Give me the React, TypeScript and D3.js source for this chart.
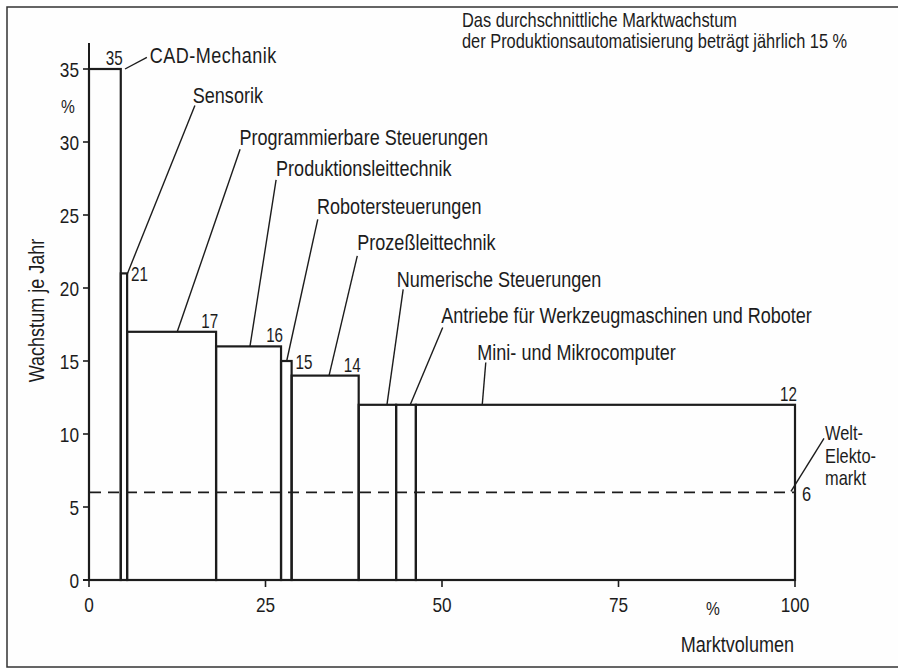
import React, { useEffect, useRef } from 'react';
import * as d3 from 'd3';

// Segmente der Produktionsautomatisierung
const categories = [
  'CAD-Mechanik',
  'Sensorik',
  'Programmierbare Steuerungen',
  'Produktionsleittechnik',
  'Robotersteuerungen',
  'Prozeßleittechnik',
  'Numerische Steuerungen',
  'Antriebe für Werkzeugmaschinen und Roboter',
  'Mini- und Mikrocomputer',
];
// Wachstum je Jahr in %
const growth = [35, 21, 17, 16, 15, 14, 12, 12, 12];
// Anteil am Marktvolumen in %
const volume = [4.5, 0.9, 12.6, 9.2, 1.5, 9.5, 5.3, 2.8, 53.7];
const valueLabels = ['35', '21', '17', '16', '15', '14', '', '', '12'];
const valuePos = ['top', 'side', 'top', 'top', 'side', 'top', '', '', 'top'];

const xTicks = [0, 25, 50, 75, 100];
const yTicks = [0, 5, 10, 15, 20, 25, 30, 35];
const worldMarket = 6;

// annotation anchors (data units): text start, leader start, leader end on the bar
const labelX = [8.6, 14.7, 21.3, 26.5, 32.3, 38.0, 43.6, 49.9, 55.0];
const labelY = [35.4, 32.7, 29.8, 27.7, 25.1, 22.6, 20.1, 17.6, 15.1];
const leaderX = [8.2, 15.0, 21.4, 26.5, 32.4, 38.0, 44.5, 50.1, 56.2];
const leaderY = [35.8, 32.5, 29.5, 27.4, 24.7, 22.2, 19.9, 17.3, 14.9];
const leaderEndX = [5.1, 5.45, 12.5, 22.8, 28.0, 34.0, 42.2, 45.5, 55.7];

const FONT = "'Liberation Sans', Arial, sans-serif";
const SX = 0.82; // condensed look
const INK = '#1c1c1c';

const tr = (x: number, y: number, sx = SX) => `translate(${x},${y}) scale(${sx},1)`;

const App: React.FC = () => {
  const svgRef = useRef<SVGSVGElement>(null);

  useEffect(() => {
    if (!svgRef.current) return;
    const svg = d3.select(svgRef.current);
    svg.selectAll('*').remove();

    const width = 898;
    const height = 669;

    const x = d3.scaleLinear().domain([0, 100]).range([89, 795]);
    const y = d3.scaleLinear().domain([0, 35]).range([580, 69]);

    const ends = Array.from(d3.cumsum(volume));
    const starts = ends.map((e, i) => e - volume[i]);

    const label = (px: number, py: number, str: string | number, size: number, anchor = 'start') =>
      svg.append('text')
        .attr('transform', tr(px, py))
        .attr('text-anchor', anchor)
        .attr('font-family', FONT).attr('font-size', size).attr('fill', INK)
        .text(str);

    // frame
    svg.append('rect')
      .attr('x', 7).attr('y', 7)
      .attr('width', 960).attr('height', 660)
      .attr('fill', '#fefefe')
      .attr('stroke', '#333').attr('stroke-width', 1.5);

    // top note
    label(462, 27, 'Das durchschnittliche Marktwachstum', 20);
    label(462, 48, 'der Produktionsautomatisierung beträgt jährlich 15 %', 20);

    // bars
    svg.append('g')
      .selectAll('rect')
      .data(growth)
      .join('rect')
      .attr('x', (d, i) => x(starts[i]))
      .attr('y', d => y(d))
      .attr('width', (d, i) => x(ends[i]) - x(starts[i]))
      .attr('height', d => y(0) - y(d))
      .attr('fill', 'none')
      .attr('stroke', INK)
      .attr('stroke-width', 2.2);

    // world electronics market (dashed)
    svg.append('line')
      .attr('x1', x(0) + 1).attr('x2', x(100))
      .attr('y1', y(worldMarket)).attr('y2', y(worldMarket))
      .attr('stroke', INK).attr('stroke-width', 1.6)
      .attr('stroke-dasharray', '11,7');

    // y axis
    const yAxis = svg.append('g');
    yAxis.append('line')
      .attr('x1', x(0)).attr('x2', x(0))
      .attr('y1', 43).attr('y2', y(0))
      .attr('stroke', INK).attr('stroke-width', 2);
    yAxis.selectAll('line.tick')
      .data(yTicks)
      .join('line')
      .attr('class', 'tick')
      .attr('x1', x(0) - 6).attr('x2', x(0))
      .attr('y1', d => y(d)).attr('y2', d => y(d))
      .attr('stroke', INK).attr('stroke-width', 1.6);
    yAxis.selectAll('text')
      .data(yTicks)
      .join('text')
      .attr('transform', d => tr(x(0) - 10, y(d) + 7.5))
      .attr('text-anchor', 'end')
      .attr('font-family', FONT).attr('font-size', 21).attr('fill', INK)
      .text(d => d);
    label(x(0) - 21, y(35) + 44, '%', 19, 'middle');
    svg.append('text')
      .attr('transform', `translate(44, ${(y(0) + y(35)) / 2 - 14}) rotate(-90) scale(${SX},1)`)
      .attr('text-anchor', 'middle')
      .attr('font-family', FONT).attr('font-size', 22).attr('fill', INK)
      .text('Wachstum je Jahr');

    // x axis
    const xAxis = svg.append('g');
    xAxis.append('line')
      .attr('x1', x(0) - 6).attr('x2', x(100))
      .attr('y1', y(0)).attr('y2', y(0))
      .attr('stroke', INK).attr('stroke-width', 2);
    xAxis.selectAll('line.tick')
      .data(xTicks)
      .join('line')
      .attr('class', 'tick')
      .attr('x1', d => x(d)).attr('x2', d => x(d))
      .attr('y1', y(0)).attr('y2', y(0) + 7)
      .attr('stroke', INK).attr('stroke-width', 1.6);
    xAxis.selectAll('text')
      .data(xTicks)
      .join('text')
      .attr('transform', d => tr(x(d), y(0) + 32))
      .attr('text-anchor', 'middle')
      .attr('font-family', FONT).attr('font-size', 21).attr('fill', INK)
      .text(d => d);
    label(x(100) - 82, y(0) + 35, '%', 19, 'middle');
    label(x(100) - 1, y(0) + 72, 'Marktvolumen', 22, 'end');

    // value labels
    svg.append('g')
      .selectAll('text')
      .data(valueLabels)
      .join('text')
      .attr('transform', (d, i) => valuePos[i] === 'side'
        ? tr(x(ends[i]) + 4, y(growth[i]) + 8, 0.76)
        : tr(x(ends[i]) + 2, y(growth[i]) - 4, 0.76))
      .attr('text-anchor', (d, i) => valuePos[i] === 'side' ? 'start' : 'end')
      .attr('font-family', FONT).attr('font-size', 20).attr('fill', INK)
      .text(d => d);

    // category labels with leader lines
    const ann = svg.append('g');
    ann.selectAll('line')
      .data(categories)
      .join('line')
      .attr('x1', (d, i) => x(leaderX[i]))
      .attr('y1', (d, i) => y(leaderY[i]))
      .attr('x2', (d, i) => x(leaderEndX[i]))
      .attr('y2', (d, i) => y(growth[i]))
      .attr('stroke', INK).attr('stroke-width', 1.4);
    ann.selectAll('text')
      .data(categories)
      .join('text')
      .attr('transform', (d, i) => tr(x(labelX[i]), y(labelY[i])))
      .attr('font-family', FONT).attr('font-size', 22).attr('fill', INK)
      .attr('letter-spacing', (d, i) => i === 0 ? 0.6 : 0)
      .text(d => d);

    // Welt-Elektromarkt note
    const wx = x(100);
    const wy = y(worldMarket);
    svg.append('line')
      .attr('x1', wx + 29).attr('y1', wy - 54)
      .attr('x2', wx - 4).attr('y2', wy - 1)
      .attr('stroke', INK).attr('stroke-width', 1.4);
    ['Welt-', 'Elekto-', 'markt'].forEach((t, i) => {
      label(wx + 30, wy - 52 + i * 22.5, t, 20);
    });
    label(wx + 7, wy + 9, worldMarket, 20);

    svg.attr('viewBox', `0 0 ${width} ${height}`);
  }, []);

  return (
    <svg
      ref={svgRef}
      width={898}
      height={669}
      style={{ position: 'absolute', left: 0, top: 0, display: 'block', background: '#fff' }}
    />
  );
};

export default App;
